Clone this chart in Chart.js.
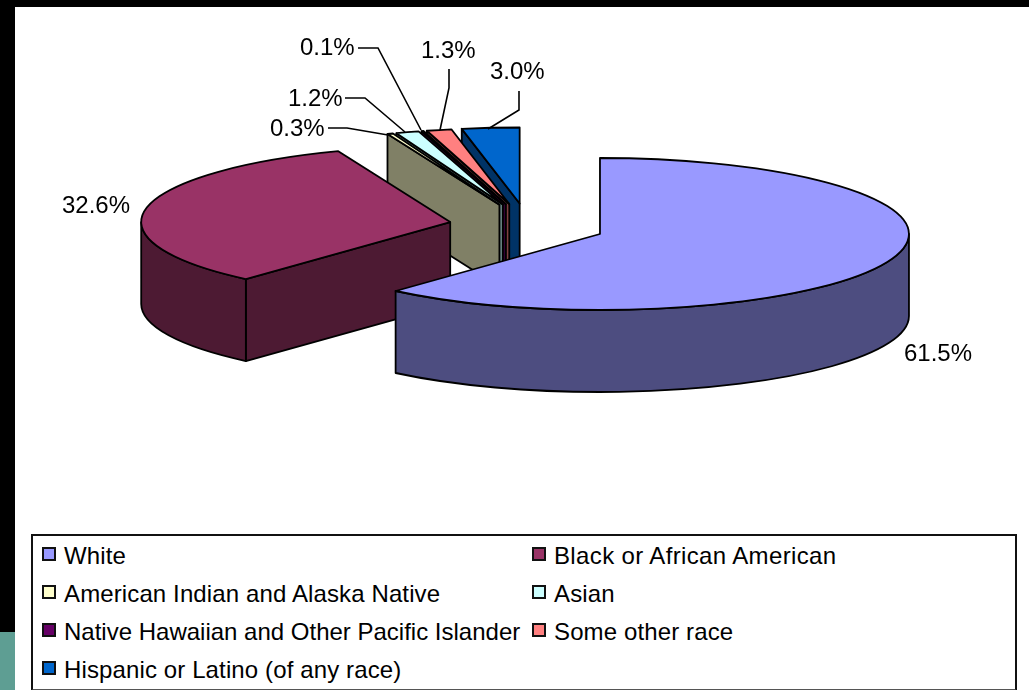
<!DOCTYPE html>
<html><head><meta charset="utf-8">
<script src="https://cdn.jsdelivr.net/npm/chart.js@4"></script>
<style>
html,body{margin:0;padding:0;width:1029px;height:690px;overflow:hidden;background:#000;font-family:"Liberation Sans",Arial,sans-serif}
#paper{position:absolute;left:15px;top:7px;right:0;bottom:0;background:#fff}
#strip{position:absolute;left:0;top:632px;width:15px;height:58px;background:#5e9e93}
#chart{position:absolute;left:0;top:0}
#legend{position:absolute;left:31px;top:534px;width:982px;height:153px;border:2px solid #111;border-bottom-color:#555;background:#fff}
.item{position:absolute;height:38px;line-height:38px;font-size:24px;color:#000;white-space:nowrap;letter-spacing:.12px}
.item i{position:absolute;left:0;top:10px;width:10px;height:10px;border:2px solid #111}
.item span{position:absolute;left:22px;top:0}
</style></head><body>
<div id="paper"></div><div id="strip"></div>
<div id="legend"></div>
<canvas id="chart" width="1029" height="690"></canvas>
<script>
const categories=["White","Black or African American","American Indian and Alaska Native","Asian","Native Hawaiian and Other Pacific Islander","Some other race","Hispanic or Latino (of any race)"];
const shares=[61.5,32.6,0.3,1.2,0.1,1.3,3.0];
const topColors=["#9999FF","#993366","#FFFFCC","#CCFFFF","#660066","#FF8080","#0066CC"];
const wallColors=["#4D4D80","#4D1A33","#808066","#668080","#330033","#804040","#003366"];

// Projection of the tilted, exploded pie
const TILT=76/309, EXPLODE_TILT=0.29, EXPLODE=78, DEPTH=82;
const CAPTION_FONT='24px "Liberation Sans", Arial, sans-serif';
// caption box: left / vertical middle; leader points follow
const captionLayout=[
 {x:904,y:354,lead:[]},
 {x:62,y:206,lead:[]},
 {x:270,y:129,lead:[[328,128],[347,128],[388,135]]},
 {x:288,y:99,lead:[[345,98],[365,98],[405,132]]},
 {x:300,y:48,lead:[[358,48],[378,48],[421,130]]},
 {x:421,y:51,lead:[[449,69],[449,88],[440,130]]},
 {x:490,y:72,lead:[[519,91],[519,110],[488,129]]}
];
const legendSpacing=[.12,.36,.12,.12,0,.12,.12];

const pie3d={
 id:'pie3d',
 beforeDatasetDraw(chart,args){
  const ctx=chart.ctx, arcs=args.meta.data;
  const order=arcs.map((_,i)=>i).filter(i=>i>=2).reverse().concat([1,0]);
  order.forEach(i=>{
   const a=arcs[i];
   const {x:cx,y:cy,startAngle:s,endAngle:e,outerRadius:r}=a.getProps(['x','y','startAngle','endAngle','outerRadius'],true);
   const mid=(s+e)/2;
   const ax=cx+Math.cos(mid)*EXPLODE, ay=cy+Math.sin(mid)*EXPLODE*EXPLODE_TILT;
   const ry=r*TILT;
   ctx.save();
   ctx.lineWidth=1.8; ctx.lineJoin='round'; ctx.strokeStyle='#000';
   // radial wall
   ctx.fillStyle=wallColors[i];
   if(Math.cos(s)<-1e-6){
     const px=ax+r*Math.cos(s), py=ay+ry*Math.sin(s);
     ctx.beginPath();ctx.moveTo(ax,ay);ctx.lineTo(px,py);ctx.lineTo(px,py+DEPTH);ctx.lineTo(ax,ay+DEPTH);ctx.closePath();ctx.fill();ctx.stroke();
   }
   // rim wall: part of the arc facing the viewer
   const from=Math.max(s,0), to=Math.min(e,Math.PI);
   if(to>from){
     ctx.beginPath();ctx.ellipse(ax,ay,r,ry,0,from,to);
     ctx.ellipse(ax,ay+DEPTH,r,ry,0,to,from,true);ctx.closePath();ctx.fill();ctx.stroke();
   }
   // top face: the library's own arc, under the tilt
   ctx.save();
   ctx.translate(ax,ay);ctx.scale(1,TILT);ctx.translate(-cx,-cy);
   a.draw(ctx);
   ctx.restore();
   ctx.beginPath();ctx.moveTo(ax,ay);ctx.ellipse(ax,ay,r,ry,0,s,e);ctx.closePath();ctx.stroke();
   ctx.restore();
  });
  // captions and leaders
  ctx.save();
  ctx.font=CAPTION_FONT;ctx.fillStyle='#000';ctx.textBaseline='middle';ctx.textAlign='left';
  ctx.strokeStyle='#000';ctx.lineWidth=1.6;
  shares.forEach((v,i)=>{
   const c=captionLayout[i];
   ctx.fillText(v.toFixed(1)+'%',c.x,c.y);
   if(c.lead.length){ctx.beginPath();c.lead.forEach((p,j)=>j?ctx.lineTo(p[0],p[1]):ctx.moveTo(p[0],p[1]));ctx.stroke();}
  });
  ctx.restore();
  return false;
 }
};

new Chart(document.getElementById('chart'),{
 type:'pie',
 data:{labels:categories,datasets:[{data:shares,backgroundColor:topColors,borderWidth:0,radius:309}]},
 options:{responsive:false,animation:false,events:[],
  layout:{padding:{left:25,top:0,right:0,bottom:238}},
  plugins:{legend:{display:false},tooltip:{enabled:false}}},
 plugins:[pie3d]
});

const legend=document.getElementById('legend');
categories.forEach((name,i)=>{
 const d=document.createElement('div');d.className='item';
 d.style.left=(i%2?499:9)+'px';
 d.style.top=(1+38*Math.floor(i/2))+'px';
 d.style.letterSpacing=legendSpacing[i]+'px';
 const sw=document.createElement('i');sw.style.background=topColors[i];
 const t=document.createElement('span');t.textContent=name;
 d.append(sw,t);legend.append(d);
});
</script>
</body></html>
